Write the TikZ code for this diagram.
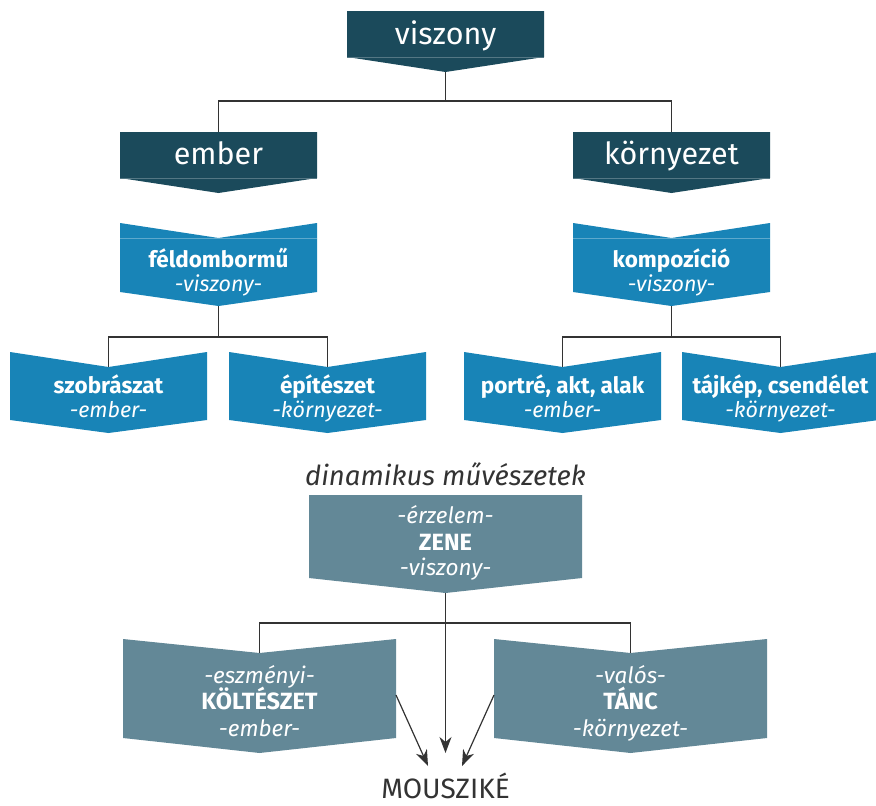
\documentclass[tikz,border=0pt]{standalone}
\usepackage{fontspec}
\setmainfont{Fira Sans}
\usetikzlibrary{arrows.meta}
\definecolor{cdark}{HTML}{1B4A5B}
\definecolor{cblue}{HTML}{1884B7}
\definecolor{cgray}{HTML}{638897}
\definecolor{cline}{HTML}{333333}
\newcommand\chevbox[8]{%
  \fill[#8] ({#1-#2},#3) -- (#1,#4) -- ({#1+#2},#3) -- ({#1+#2},#5) -- (#1,#6) -- ({#1-#2},#5) -- cycle;
  \coordinate (#7-top) at (#1,#4);
  \coordinate (#7-tip) at (#1,#6);
}
\tikzset{
  ttl/.style={text=white,anchor=base,inner sep=0pt,font=\fontsize{30.5}{32}\selectfont},
  bl/.style={text=white,anchor=base,inner sep=0pt,font=\bfseries\fontsize{22.5}{24}\selectfont},
  itl/.style={text=white,anchor=base,inner sep=0pt,font=\itshape\fontsize{21.5}{24}\selectfont},
  blg/.style={text=white,anchor=base,inner sep=0pt,font=\bfseries\fontsize{23.5}{26}\selectfont},
  itg/.style={text=white,anchor=base,inner sep=0pt,font=\itshape\fontsize{22.5}{26}\selectfont},
  plain/.style={text=cline,anchor=base,inner sep=0pt},
  conn/.style={draw=cline,line width=1.2pt},
  arr/.style={draw=cline,line width=1.2pt,-{Stealth[length=16pt,width=12pt,inset=5pt]}},
  seamd/.style={draw=cdark!75!white,line width=0.5pt},
  seamb/.style={draw=cblue!70!white,line width=0.6pt},
}
\begin{document}
\begin{tikzpicture}[x=1pt,y=-1pt]
\useasboundingbox (0,0) rectangle (876,806);
% top level
\chevbox{445.5}{98.5}{11}{11}{57}{72}{vis}{cdark}
\draw[seamd] (347,57) -- (544,57);
\chevbox{218.5}{98.5}{132}{132}{178}{193}{emb}{cdark}
\draw[seamd] (120,178) -- (317,178);
\chevbox{671.5}{98.5}{132}{132}{178}{193}{kor}{cdark}
\draw[seamd] (573,178) -- (770,178);
\node[ttl] (visT) at (445.5,44) {viszony};
\node[ttl] (embT) at (218.5,164) {ember};
\node[ttl] (korT) at (671.5,164) {környezet};
% second level
\chevbox{218.5}{98.5}{223}{238}{292}{306}{fel}{cblue}
\draw[seamb] (120,238) -- (317,238);
\chevbox{671.5}{98.5}{223}{238}{292}{306}{kom}{cblue}
\draw[seamb] (573,238) -- (770,238);
\node[bl] (felT) at (218.5,267) {féldombormű};
\node[itl] (felS) at (218.5,291) {-viszony-};
\node[bl] (komT) at (671.5,267) {kompozíció};
\node[itl] (komS) at (671.5,291) {-viszony-};
% third level
\chevbox{108.5}{98.5}{352}{367}{420}{433}{szo}{cblue}
\chevbox{327.5}{98.5}{352}{367}{420}{433}{epi}{cblue}
\chevbox{562.5}{98.5}{352}{367}{420}{433}{por}{cblue}
\chevbox{780.5}{98.5}{352}{367}{420}{433}{taj}{cblue}
\node[bl] (szoT) at (108.5,393) {szobrászat};
\node[itl] (szoS) at (108.5,417) {-ember-};
\node[bl] (epiT) at (327.5,393) {építészet};
\node[itl] (epiS) at (327.5,417) {-környezet-};
\node[bl] (porT) at (562.5,393) {portré, akt, alak};
\node[itl] (porS) at (562.5,417) {-ember-};
\node[bl] (tajT) at (780.5,393) {tájkép, csendélet};
\node[itl] (tajS) at (780.5,417) {-környezet-};
% connectors top
\draw[conn] (vis-tip) -- ++(0,29) -| (emb-top);
\draw[conn] (vis-tip) -- ++(0,29) -| (kor-top);
\draw[conn] (fel-tip) -- ++(0,31) -| (szo-top);
\draw[conn] (fel-tip) -- ++(0,31) -| (epi-top);
\draw[conn] (kom-tip) -- ++(0,31) -| (por-top);
\draw[conn] (kom-tip) -- ++(0,31) -| (taj-top);
% dynamic arts
\node[plain,font=\itshape\fontsize{27.5}{30}\selectfont] (din) at (445.5,485) {dinamikus művészetek};
\chevbox{445.5}{136.5}{495}{495}{578}{593}{zen}{cgray}
\node[itg] (zenA) at (445.5,523) {-érzelem-};
\node[blg] (zenT) at (445.5,550) {ZENE};
\node[itg] (zenB) at (445.5,575) {-viszony-};
\chevbox{259.5}{136.5}{639}{653}{738}{753}{kol}{cgray}
\node[itg] (kolA) at (259.5,683) {-eszményi-};
\node[blg] (kolT) at (259.5,709) {KÖLTÉSZET};
\node[itg] (kolB) at (259.5,736) {-ember-};
\chevbox{630.5}{136.5}{639}{653}{738}{753}{tan}{cgray}
\node[itg] (tanA) at (630.5,683) {-valós-};
\node[blg] (tanT) at (630.5,709) {TÁNC};
\node[itg] (tanB) at (630.5,736) {-környezet-};
\node[plain,font=\fontsize{28}{30}\selectfont] (mou) at (445.5,798) {MOUSZIKÉ};
\coordinate (kol-r) at (396,695);
\coordinate (tan-l) at (494,695);
\coordinate (mou-l) at (428,766);
\coordinate (mou-c) at (445.5,753);
\coordinate (mou-r) at (462,766);
\draw[conn] (zen-tip) -- ++(0,30) -| (kol-top);
\draw[conn] (zen-tip) -- ++(0,30) -| (tan-top);
\draw[arr] (zen-tip) -- (mou-c);
\draw[arr] (kol-r) -- (mou-l);
\draw[arr] (tan-l) -- (mou-r);
\end{tikzpicture}
\end{document}
